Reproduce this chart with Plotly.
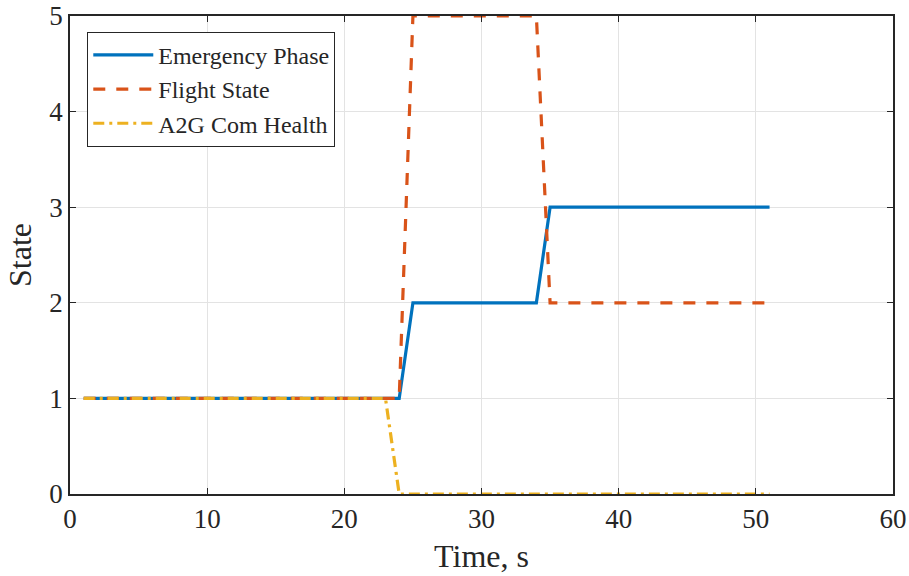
import plotly.graph_objects as go

# values (time in s, state level)
t_emergency = [1, 24, 25, 34, 35, 51]
emergency_phase = [1, 1, 2, 2, 3, 3]

t_flight = [1, 24, 25, 34, 35, 51]
flight_state = [1, 1, 5, 5, 2, 2]

t_a2g = [1, 23, 24, 51]
a2g_health = [1, 1, 0, 0]

font_family = "Liberation Serif"
ink = "#262626"

fig = go.Figure()
fig.add_trace(go.Scatter(x=t_emergency, y=emergency_phase, mode="lines", name="Emergency Phase",
                         line=dict(color="#0072BD", width=3.2)))
fig.add_trace(go.Scatter(x=t_flight, y=flight_state, mode="lines", name="Flight State",
                         line=dict(color="#D95319", width=3.2, dash="12px,11px")))
fig.add_trace(go.Scatter(x=t_a2g, y=a2g_health, mode="lines", name="A2G Com Health",
                         line=dict(color="#EDB120", width=3.2, dash="11px,5px,3px,5px")))

axis_common = dict(showgrid=True, gridcolor="#e3e3e3", gridwidth=1,
                   showline=True, linecolor=ink, linewidth=1.5, mirror="ticks",
                   ticks="inside", ticklen=6, tickcolor=ink, automargin=False,
                   zeroline=False, tickfont=dict(family=font_family, size=27, color=ink))

fig.update_xaxes(range=[0, 60], dtick=10,
                 title=dict(text="Time, s", font=dict(family=font_family, size=32, color=ink), standoff=11),
                 **axis_common)
fig.update_yaxes(range=[0, 5], dtick=1,
                 title=dict(text="State", font=dict(family=font_family, size=32, color=ink), standoff=8),
                 **axis_common)

fig.update_layout(
    width=909, height=576,
    margin=dict(l=70, r=16, t=16, b=82),
    plot_bgcolor="white", paper_bgcolor="white",
    legend=dict(x=0.021, y=0.967, xanchor="left", yanchor="top",
                bgcolor="white", bordercolor=ink, borderwidth=1,
                font=dict(family=font_family, size=24, color=ink),
                tracegroupgap=0, itemwidth=60),
)

fig.write_html("out.html", config={"displayModeBar": False},
               post_script="document.body.style.margin='0';")
